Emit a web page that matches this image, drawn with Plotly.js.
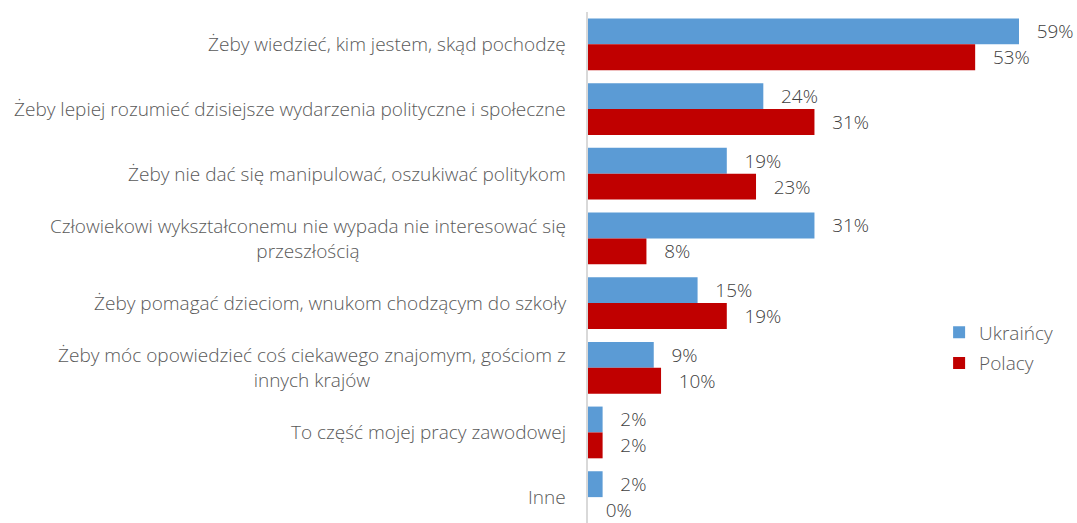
<!DOCTYPE html>
<html>
<head>
<meta charset="utf-8">
<script src="https://cdn.plot.ly/plotly-3.0.1.min.js"></script>
<style>html,body{margin:0;padding:0;background:#fff;}#chart{width:1077px;height:523px;}</style>
</head>
<body>
<div id="chart"></div>
<script>
const categories = [
  "Żeby wiedzieć, kim jestem, skąd pochodzę",
  "Żeby lepiej rozumieć dzisiejsze wydarzenia polityczne i społeczne",
  "Żeby nie dać się manipulować, oszukiwać politykom",
  "Człowiekowi wykształconemu nie wypada nie interesować się<br>przeszłością",
  "Żeby pomagać dzieciom, wnukom chodzącym do szkoły",
  "Żeby móc opowiedzieć coś ciekawego znajomym, gościom z<br>innych krajów",
  "To część mojej pracy zawodowej",
  "Inne"
];
const ukraincy = [59, 24, 19, 31, 15, 9, 2, 2];
const polacy = [53, 31, 23, 8, 19, 10, 2, 0];
const seriesNames = ["Ukraińcy", "Polacy"];

const FONT = "'Open Sans', Lato, sans-serif";
const pad = "\u00a0\u00a0\u00a0";

const traces = [
  {type: "bar", orientation: "h", name: seriesNames[0], y: categories, x: ukraincy,
   marker: {color: "#5B9BD5"}, text: ukraincy.map(v => pad + v + "%"), textposition: "outside",
   textfont: {family: FONT, size: 19, color: "#404040", weight: 300}, cliponaxis: false, legendgroup: "a", hoverinfo: "none"},
  {type: "bar", orientation: "h", name: seriesNames[1], y: categories, x: polacy,
   marker: {color: "#C00000"}, text: polacy.map(v => pad + v + "%"), textposition: "outside",
   textfont: {family: FONT, size: 19, color: "#404040", weight: 300}, cliponaxis: false, legendgroup: "b", hoverinfo: "none"}
];

const annotations = categories.map(c => ({
  xref: "paper", yref: "y", x: -0.04, y: c, text: c, showarrow: false,
  xanchor: "right", yanchor: "middle", align: "center",
  font: {family: FONT, size: 19, color: "#595959", weight: 300}
}));

const layout = {
  width: 1077, height: 523,
  margin: {l: 588, r: 0, t: 12, b: 0, pad: 0},
  paper_bgcolor: "#fff", plot_bgcolor: "#fff",
  barmode: "group", bargap: 0.2, bargroupgap: 0,
  showlegend: true,
  legend: {x: 0.718, y: 0.41, xanchor: "left", yanchor: "top", tracegroupgap: 3,
           font: {family: FONT, size: 19, color: "#595959", weight: 300}, bgcolor: "rgba(0,0,0,0)"},
  xaxis: {range: [0, 66.94], showgrid: false, zeroline: false, showticklabels: false, showline: false, fixedrange: true},
  yaxis: {type: "category", range: [7.40, -0.5], showgrid: false, zeroline: false,
          showticklabels: false, showline: true, linecolor: "#D9D9D9", linewidth: 2, ticks: "", fixedrange: true},
  annotations: annotations,
  font: {family: FONT}
};

Plotly.newPlot("chart", traces, layout, {displayModeBar: false, staticPlot: true});
</script>
</body>
</html>
